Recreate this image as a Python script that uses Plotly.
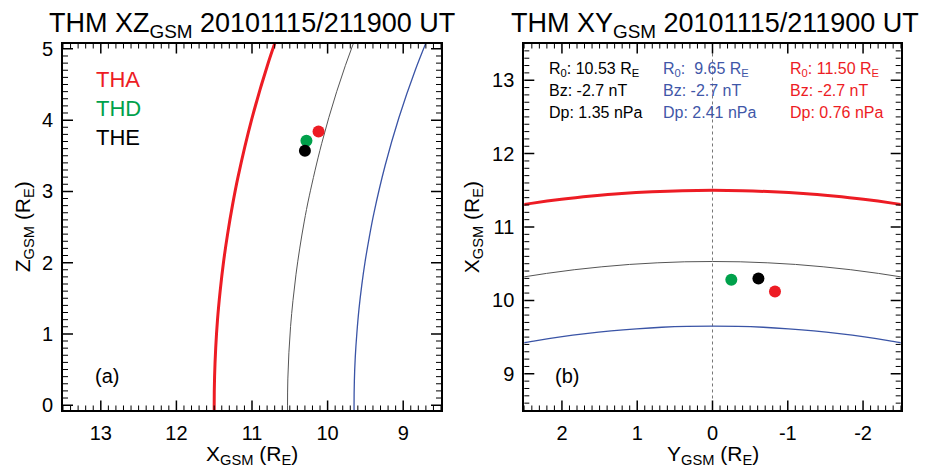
import plotly.graph_objects as go

W, H = 925, 474
FONT = "Arial, 'Liberation Sans', Helvetica, sans-serif"

# ---- spacecraft positions (GSM, R_E) at 2010-11-15 21:19:00 UT ----
probes = ["THA", "THD", "THE"]
probe_colors = ["#ED1C24", "#00A14B", "#000000"]
probe_x = [10.12, 10.28, 10.30]
probe_y = [-0.83, -0.25, -0.61]
probe_z = [3.84, 3.71, 3.57]

# ---- magnetopause models: subsolar distance, IMF Bz, dynamic pressure ----
mp_r0 = [10.53, 9.65, 11.50]
mp_bz = [-2.7, -2.7, -2.7]
mp_dp = [1.35, 2.41, 0.76]
mp_colors = ["#555555", "#3A54A6", "#ED1C24"]
mp_text_colors = ["#000000", "#3F57A8", "#ED1C24"]
mp_widths = [1.0, 1.3, 3.0]

# boundary samples: X (R_E) against distance from the X axis rho (R_E)
mp_black_x = [10.530, 10.526, 10.512, 10.490, 10.458, 10.418, 10.368, 10.310,
              10.242, 10.079, 9.880, 9.642, 9.366]
mp_black_rho = [0.000, 0.368, 0.735, 1.102, 1.470, 1.837, 2.204, 2.571,
                2.937, 3.669, 4.399, 5.127, 5.852]
mp_blue_x = [9.650, 9.646, 9.634, 9.613, 9.585, 9.548, 9.503, 9.449,
             9.388, 9.239, 9.057, 8.841, 8.589]
mp_blue_rho = [0.000, 0.337, 0.674, 1.010, 1.347, 1.684, 2.020, 2.356,
               2.692, 3.363, 4.033, 4.701, 5.367]
mp_red_x = [11.500, 11.495, 11.480, 11.456, 11.421, 11.377, 11.322, 11.258,
            11.184, 11.005, 10.786, 10.525]
mp_red_rho = [0.000, 0.401, 0.803, 1.204, 1.605, 2.006, 2.407, 2.807,
              3.207, 4.006, 4.802, 5.596]

mp_x = [mp_black_x, mp_blue_x, mp_red_x]
mp_rho = [mp_black_rho, mp_blue_rho, mp_red_rho]

# axis ranges and tick labels
xz_xrange = [13.5, 8.5]
xz_zrange = [-0.075, 5.075]
xy_yrange = [2.5, -2.5]
xy_xrange = [8.5, 13.5]
xy_ytick_vals = [2, 1, 0, -1, -2]
xy_ytick_text = ["2", "1", "0", "-1", "-2"]

fig = go.Figure()

# XZ plane: boundary curves (mirrored just below z = 0 so they reach the frame)
for xs, rs, c, w in zip(mp_x, mp_rho, mp_colors, mp_widths):
    fig.add_trace(go.Scatter(
        x=list(reversed(xs[1:4])) + xs,
        y=[-r for r in reversed(rs[1:4])] + rs,
        mode="lines", line=dict(color=c, width=w, shape="spline"),
        xaxis="x", yaxis="y", hoverinfo="skip"))

# XY plane: boundary curves in the z = 0 plane
for xs, rs, c, w in zip(mp_x, mp_rho, mp_colors, mp_widths):
    fig.add_trace(go.Scatter(
        x=[r for r in reversed(rs[1:])] + [-r for r in rs],
        y=list(reversed(xs[1:])) + xs,
        mode="lines", line=dict(color=c, width=w, shape="spline"),
        xaxis="x2", yaxis="y2", hoverinfo="skip"))

# probe positions
for px, py, pz, c in zip(probe_x, probe_y, probe_z, probe_colors):
    fig.add_trace(go.Scatter(x=[px], y=[pz], mode="markers",
                             marker=dict(color=c, size=12),
                             xaxis="x", yaxis="y", hoverinfo="skip"))
    fig.add_trace(go.Scatter(x=[py], y=[px], mode="markers",
                             marker=dict(color=c, size=12),
                             xaxis="x2", yaxis="y2", hoverinfo="skip"))

# noon meridian marker in the XY panel
fig.add_shape(type="line", xref="x2", yref="y2 domain", x0=0, x1=0, y0=0, y1=1,
              line=dict(color="#777777", width=1, dash="dot"), layer="below")


def px_x(p):
    return p / W


def px_y(p):
    return 1 - p / H


def tick_values(rng, step=0.1):
    """Multiples of step inside the axis range, flagged major on whole numbers."""
    lo, hi = min(rng), max(rng)
    out = []
    k = int(lo / step) - 1
    while k * step <= hi + 1e-9:
        v = round(k * step, 3)
        if lo - 1e-9 <= v <= hi + 1e-9:
            out.append((v, abs(v - round(v)) < 1e-6))
        k += 1
    return out


def frame_ticks(xref, yref, xrng, yrng, major_len=10, minor_len=5):
    """Inward ticks on all four sides of a panel frame."""
    for v, major in tick_values(xrng):
        ln = major_len if major else minor_len
        lw = 1.5 if major else 1
        for anchor, sign in ((0, 1), (1, -1)):
            fig.add_shape(type="line", xref=xref, yref=f"{yref} domain",
                          x0=v, x1=v, ysizemode="pixel", yanchor=anchor,
                          y0=0, y1=sign * ln, layer="above",
                          line=dict(color="black", width=lw))
    for v, major in tick_values(yrng):
        ln = major_len if major else minor_len
        lw = 1.5 if major else 1
        for anchor, sign in ((0, 1), (1, -1)):
            fig.add_shape(type="line", xref=f"{xref} domain", yref=yref,
                          y0=v, y1=v, xsizemode="pixel", xanchor=anchor,
                          x0=0, x1=sign * ln, layer="above",
                          line=dict(color="black", width=lw))


frame_ticks("x", "y", xz_xrange, xz_zrange)
frame_ticks("x2", "y2", xy_yrange, xy_xrange)


def axis_style(rng, dom, anchor, **extra):
    d = dict(
        range=rng, domain=dom, anchor=anchor,
        showgrid=False, zeroline=False,
        showline=True, linecolor="black", linewidth=2, mirror=True,
        ticks="", tick0=0, dtick=1,
        tickfont=dict(family=FONT, size=20, color="black"),
        ticklabelstandoff=4,
    )
    d.update(extra)
    return d


dom_y = [px_y(415), px_y(38.5)]
dom_xa = [px_x(63), px_x(441)]
dom_xb = [px_x(524.3), px_x(900.7)]
fig.update_layout(
    width=W, height=H, margin=dict(l=0, r=0, t=0, b=0),
    paper_bgcolor="white", plot_bgcolor="rgba(0,0,0,0)", showlegend=False,
    xaxis=axis_style(xz_xrange, dom_xa, "y"),
    yaxis=axis_style(xz_zrange, dom_y, "x"),
    xaxis2=axis_style(xy_yrange, dom_xb, "y2", tickmode="array",
                      tickvals=xy_ytick_vals, ticktext=xy_ytick_text),
    yaxis2=axis_style(xy_xrange, dom_y, "x2"),
)


def label(text, x, y, size, color="black", xanchor="center", angle=0):
    fig.add_annotation(text=text, x=px_x(x), y=px_y(y), xref="paper", yref="paper",
                       xanchor=xanchor, yanchor="middle", showarrow=False,
                       textangle=angle, font=dict(family=FONT, size=size, color=color))


# titles
label("THM XZ<sub>GSM</sub> 20101115/211900 UT", 251.5, 19, 27)
label("THM XY<sub>GSM</sub> 20101115/211900 UT", 715, 19, 27)

# axis titles
label("X<sub>GSM</sub> (R<sub>E</sub>)", 252, 461, 21)
label("Y<sub>GSM</sub> (R<sub>E</sub>)", 712.5, 461, 21)
label("Z<sub>GSM</sub> (R<sub>E</sub>)", 24, 227, 21, angle=-90)
label("X<sub>GSM</sub> (R<sub>E</sub>)", 473, 227, 21, angle=-90)

# panel tags
label("(a)", 107, 380, 20)
label("(b)", 567, 380, 20)

# probe legend
for i, (name, c) in enumerate(zip(probes, probe_colors)):
    label(name, 94, 75 + 30 * i, 22, color=c, xanchor="left")

# model parameters
col_x = [546.7, 661, 788.3]
for r0, bz, dp, c, x0 in zip(mp_r0, mp_bz, mp_dp, mp_text_colors, col_x):
    r0_txt = f"{r0:5.2f}".replace(" ", "\u00a0")
    label(f"R<sub>0</sub>:\u00a0{r0_txt} R<sub>E</sub>", x0, 65, 16, color=c, xanchor="left")
    label(f"Bz: {bz:.1f} nT", x0, 87, 16, color=c, xanchor="left")
    label(f"Dp: {dp:.2f} nPa", x0, 109.5, 16, color=c, xanchor="left")

fig.write_html("out.html")
